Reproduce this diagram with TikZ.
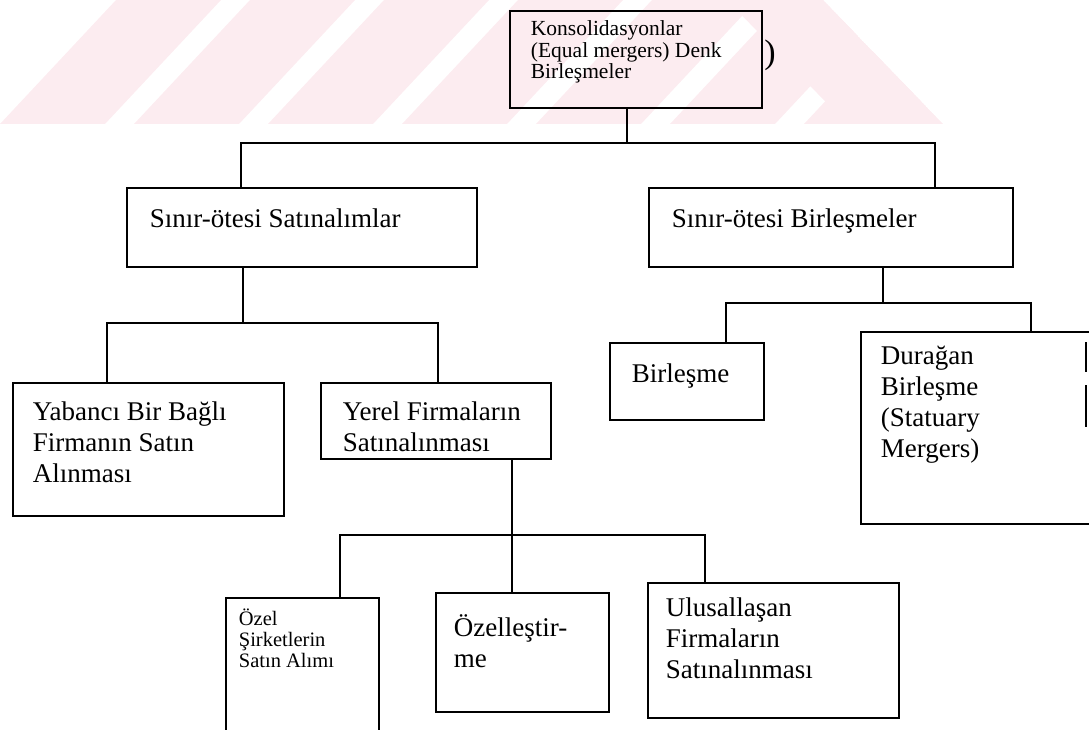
\documentclass[tikz,border=0pt]{standalone}
\usepackage{fontspec}
\setmainfont{Liberation Serif}
\usepackage{tikz}

\definecolor{filigran}{RGB}{252,236,240}
\newcommand{\kutuyazi}[5]{\parbox[c][#2][t]{#1}{\raggedright\leftskip=#3\relax\rule{0pt}{#4}#5}}
\tikzset{
  kutu/.style={draw, line width=1.8pt, inner sep=0pt, anchor=north west},
  buyuk/.style={font=\fontsize{27}{31}\selectfont},
  kucuk/.style={font=\fontsize{20.5}{21}\selectfont},
  hat/.style={line width=1.8pt}
}

\begin{document}
\begin{tikzpicture}[x=1pt, y=-1pt]

\clip (0,0) rectangle (1089,730);

% watermark stripes
\begin{scope}
\clip (0,0) -- (823,0) -- (943,124) -- (0,124) -- cycle;
\foreach \k in {0,...,6} {
  \fill[filigran] ({116+134*\k},0) -- ({221+134*\k},0) -- ({105+134*\k},124) -- ({134*\k},124) -- cycle;
}
\fill[filigran] (727,0) -- (823,0) -- (943,124) -- (847,124) -- cycle;
\end{scope}

% top box
\node[kutu, kucuk, font=\fontsize{21.5}{21.5}\selectfont] (konsol) at (509,10) {\kutuyazi{252pt}{97pt}{21pt}{25pt}{Konsolidasyonlar\\(Equal mergers) Denk\\Birleşmeler}};
\node[font=\fontsize{34}{34}\selectfont] (parantez) at (770,55) {)};

% second level
\node[kutu, buyuk] (sinirA) at (126,187) {\kutuyazi{350pt}{79pt}{23pt}{40pt}{Sınır-ötesi Satınalımlar}};
\node[kutu, buyuk] (sinirB) at (648,187) {\kutuyazi{364pt}{79pt}{23pt}{40pt}{Sınır-ötesi Birleşmeler}};

% third level
\node[kutu, buyuk] (yabanci) at (12,382) {\kutuyazi{271pt}{133pt}{20pt}{38pt}{Yabancı Bir Bağlı\\Firmanın Satın\\Alınması}};
\node[kutu, buyuk] (yerel) at (320,382) {\kutuyazi{230pt}{76pt}{22pt}{38pt}{Yerel Firmaların\\Satınalınması}};
\node[kutu, buyuk] (birlesme) at (609,342) {\kutuyazi{154pt}{77pt}{22pt}{40pt}{Birleşme}};
\node[kutu, buyuk] (duragan) at (860,331) {\kutuyazi{235pt}{192pt}{20pt}{33pt}{Durağan\\Birleşme\\(Statuary\\Mergers)}};
\draw[hat] (1086,342) -- (1086,372) (1086,385) -- (1086,427);

% fourth level
\node[kutu, kucuk] (ozel) at (225,597) {\kutuyazi{153pt}{150pt}{13pt}{28pt}{Özel\\Şirketlerin\\Satın Alımı}};
\node[kutu, buyuk] (ozellestirme) at (435,592) {\kutuyazi{173pt}{119pt}{18pt}{44pt}{Özelleştir-\\me}};
\node[kutu, buyuk] (ulusal) at (647,582) {\kutuyazi{251pt}{135pt}{18pt}{34pt}{Ulusallaşan\\Firmaların\\Satınalınması}};

% tree lines
\coordinate (c1) at (627,143);
\coordinate (aA) at (241,143);
\coordinate (aB) at (935,143);
\draw[hat] (konsol.south -| c1) -- (c1);
\draw[hat] (sinirA.north -| aA) -- (aA) -- (aB) -- (sinirB.north -| aB);

\coordinate (c2) at (243,323);
\coordinate (aY) at (107,323);
\coordinate (aE) at (438,323);
\draw[hat] (sinirA.south -| c2) -- (c2);
\draw[hat] (yabanci.north -| aY) -- (aY) -- (aE) -- (yerel.north -| aE);

\coordinate (c3) at (883,303);
\coordinate (aBir) at (726,303);
\coordinate (aDur) at (1031,303);
\draw[hat] (sinirB.south -| c3) -- (c3);
\draw[hat] (birlesme.north -| aBir) -- (aBir) -- (aDur) -- (duragan.north -| aDur);

\coordinate (c4) at (512,535);
\coordinate (aOz) at (340,535);
\coordinate (aUlu) at (705,535);
\draw[hat] (yerel.south -| c4) -- (ozellestirme.north -| c4);
\draw[hat] (ozel.north -| aOz) -- (aOz) -- (aUlu) -- (ulusal.north -| aUlu);

\end{tikzpicture}
\end{document}
